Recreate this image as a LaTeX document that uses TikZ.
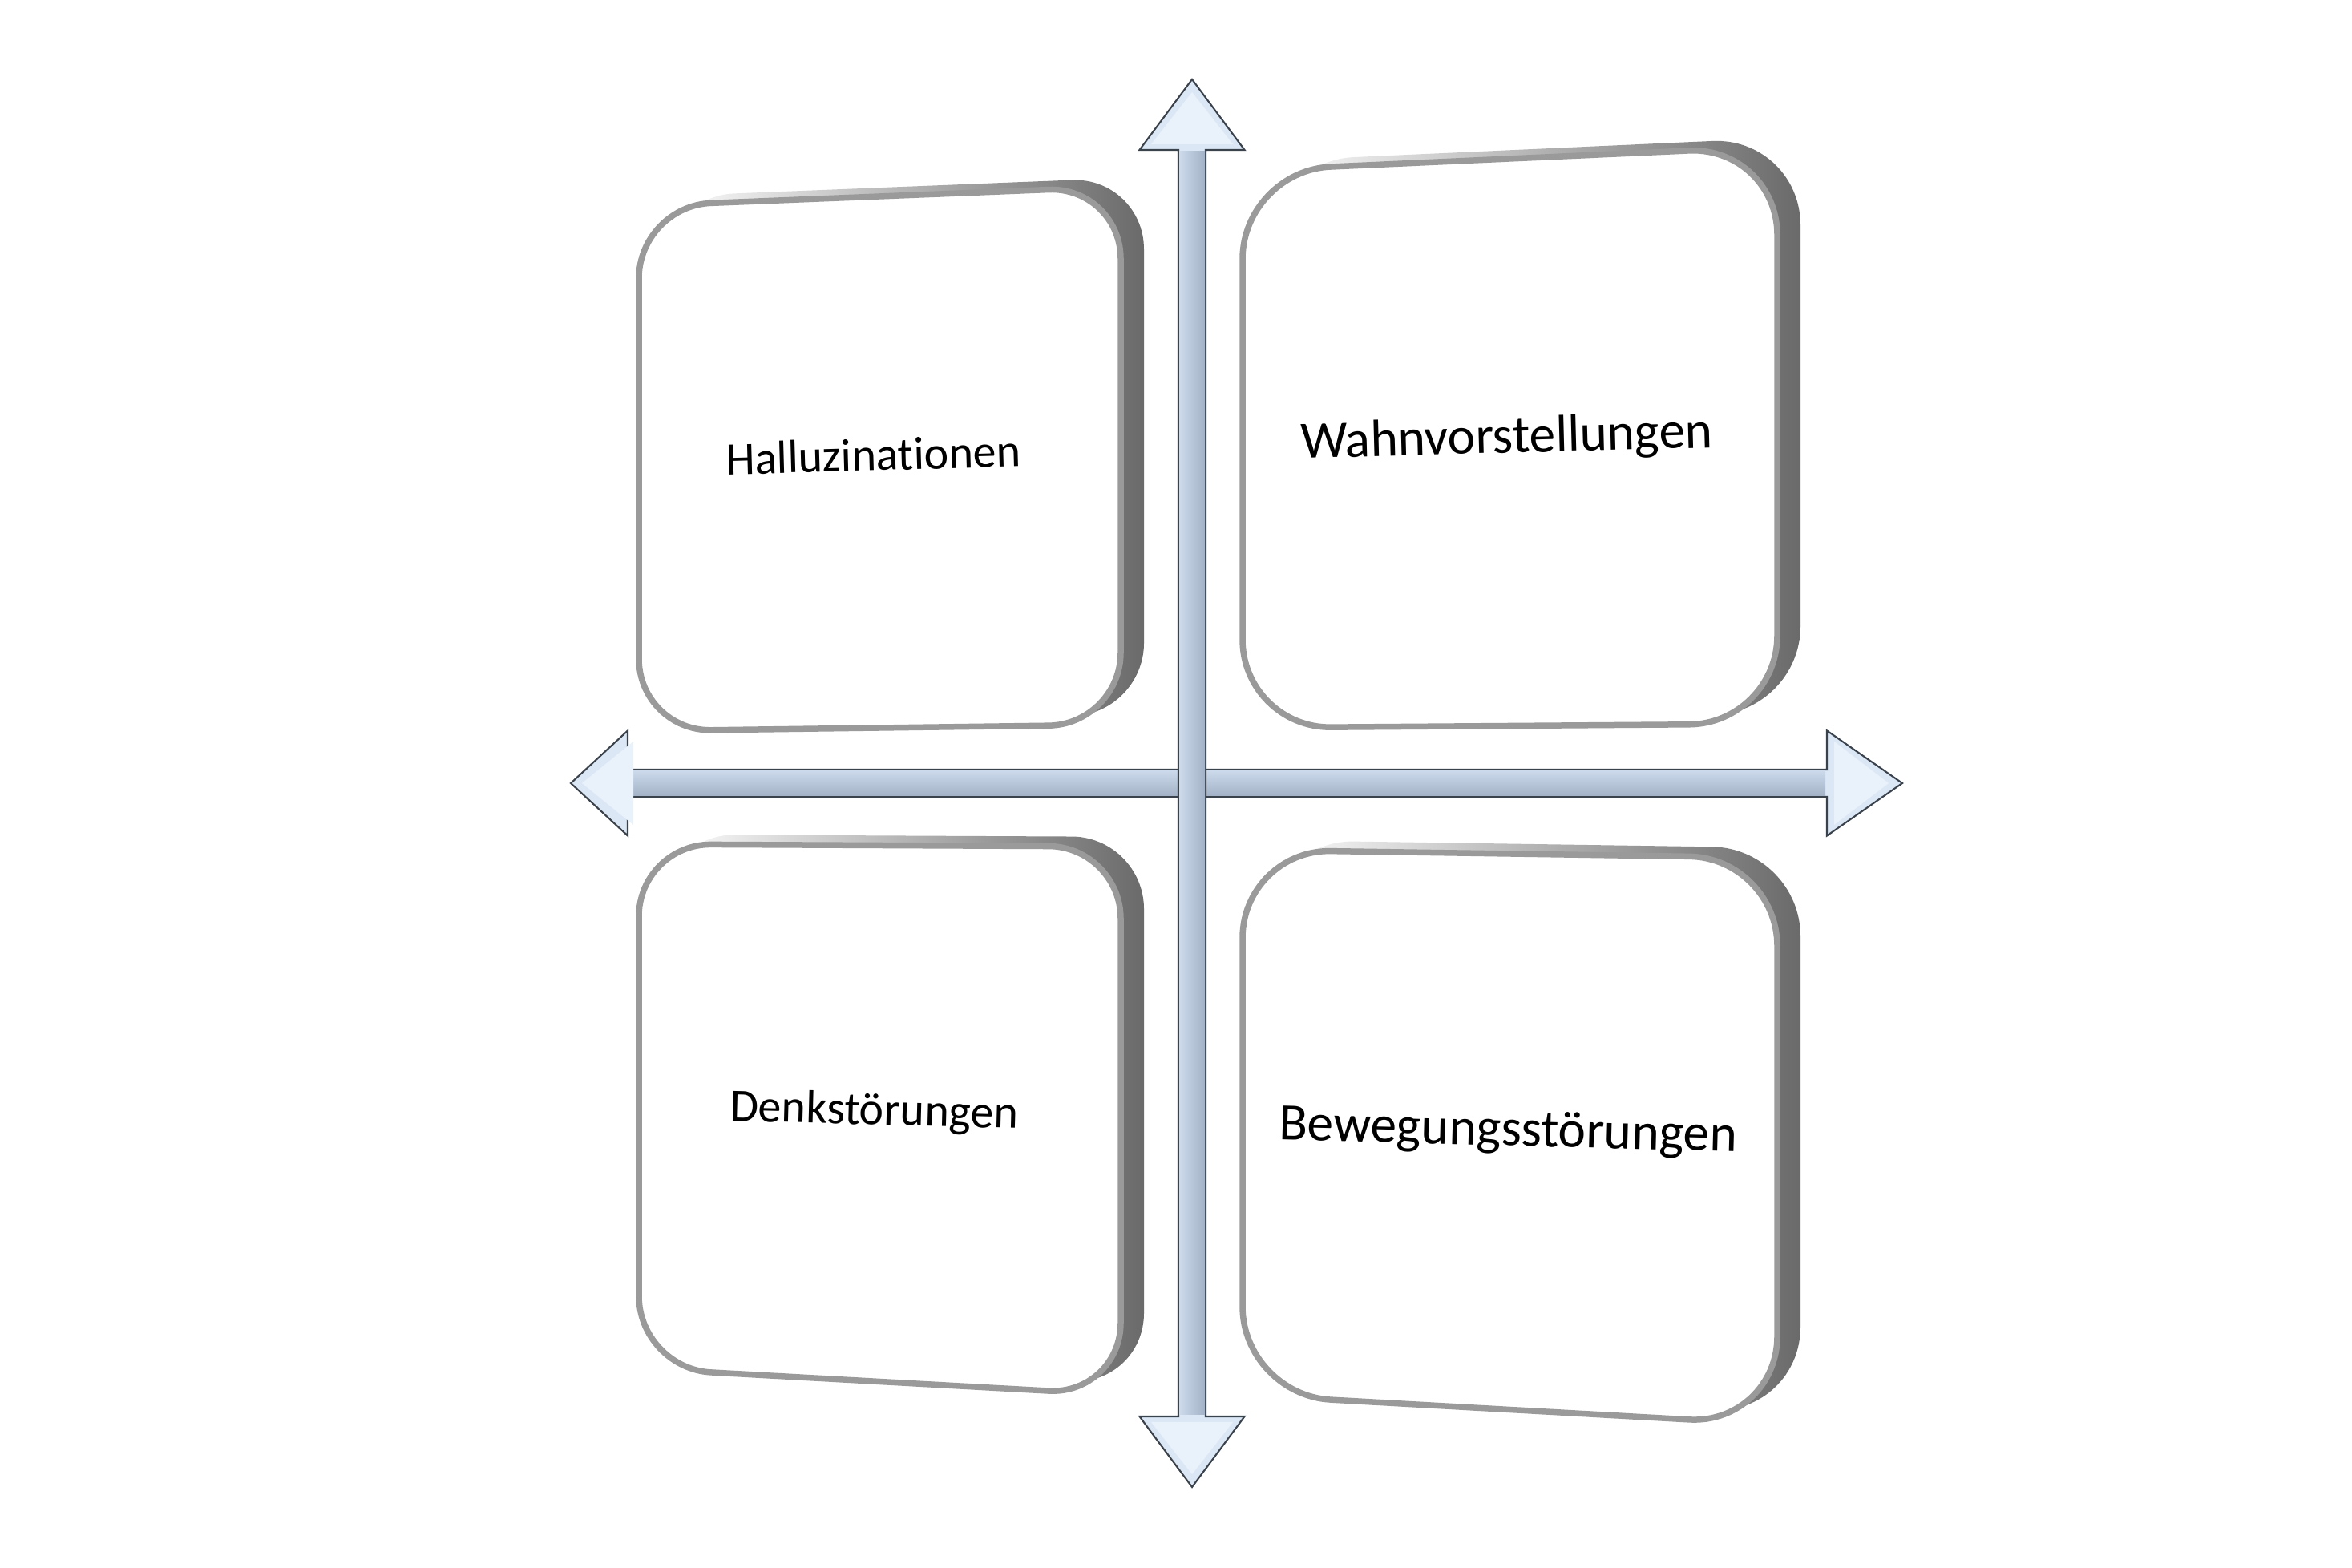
\documentclass[tikz,border=0pt]{standalone}
\usepackage{fontspec}
\setmainfont{Carlito}[Ligatures=NoCommon, RawFeature={-liga;-clig;-dlig}]

\definecolor{slabedge}{HTML}{9A9A9A}
\definecolor{slabdark}{HTML}{6A6A6A}
\definecolor{axisfill}{HTML}{DCE7F6}
\definecolor{axislight}{HTML}{CCDAEC}
\definecolor{axismid}{HTML}{F2F7FD}
\definecolor{axisdark}{HTML}{A3B2C6}
\definecolor{axisedge}{HTML}{3A424C}

\tikzset{
  slabback/.style={left color=white, right color=slabdark},
  slabfront/.style={fill=white, draw=slabedge, line width=0.075cm},
  axisarrow/.style={fill=axisfill, draw=axisedge, line width=0.6pt, line join=miter},
  axisinner/.style={fill=axismid!60!axisfill},
  smalltext/.style={font=\fontsize{16.5}{20}\selectfont, inner sep=0pt, anchor=base},
  bigtext/.style={font=\fontsize{18.6}{22}\selectfont, inner sep=0pt, anchor=base},
}

\begin{document}
\begin{tikzpicture}
    \useasboundingbox (0,0) rectangle (29.34,19.55);

    % the four slabs: left x / right x / top left y / top right y / bottom right y / bottom left y / corner radius
    \foreach \xl/\xr/\ytl/\ytr/\ybr/\ybl/\rad in {
        7.97/13.98/16.98/17.22/10.51/10.43/0.9,
        15.50/22.17/17.42/17.72/10.52/10.47/1.1,
        7.97/13.98/9.02/8.99/2.15/2.48/0.9,
        15.50/22.17/8.95/8.85/1.78/2.15/1.1} {
        % extruded side, seen to the right and on top
        \path[slabback, rounded corners=\rad cm, shift={(0.29,0.12)}]
            (\xl,\ytl) -- (\xr,\ytr) -- (\xr,\ybr) -- (\xl,\ybl) -- cycle;
        % front face
        \path[slabfront, rounded corners=\rad cm]
            (\xl,\ytl) -- (\xr,\ytr) -- (\xr,\ybr) -- (\xl,\ybl) -- cycle;
    }

    % horizontal axis
    \path[axisarrow] (7.12,9.78) -- (7.83,10.435) -- (7.83,9.95) -- (22.79,9.95) -- (22.79,10.435)
        -- (23.73,9.78) -- (22.79,9.125) -- (22.79,9.61) -- (7.83,9.61) -- (7.83,9.125) -- cycle;
    \fill[top color=axislight, middle color=axismid, bottom color=axisdark] (7.85,9.62) rectangle (22.77,9.94);
    \fill[axisinner] (7.26,9.78) -- (7.90,10.30) -- (7.90,9.26) -- cycle;
    \fill[axisinner] (23.56,9.78) -- (22.88,10.30) -- (22.88,9.26) -- cycle;

    % vertical axis
    \path[axisarrow] (14.87,18.56) -- (15.525,17.68) -- (15.04,17.68) -- (15.04,1.88) -- (15.525,1.88)
        -- (14.87,1.00) -- (14.215,1.88) -- (14.70,1.88) -- (14.70,17.68) -- (14.215,17.68) -- cycle;
    \fill[left color=axislight, middle color=axismid, right color=axisdark] (14.71,1.90) rectangle (15.03,17.66);
    \fill[axisinner] (14.87,18.40) -- (15.38,17.75) -- (14.36,17.75) -- cycle;
    \fill[axisinner] (14.87,1.16) -- (15.38,1.81) -- (14.36,1.81) -- cycle;

    % texts
    \node[smalltext, rotate=1.6] (hall) at (10.90,13.68) {Halluzinationen};
    \node[bigtext, rotate=1.5] (wahn) at (18.80,13.90) {Wahnvorstellungen};
    \node[smalltext, rotate=-1.5] (denk) at (10.90,5.52) {Denkstörungen};
    \node[bigtext, rotate=-1.5] (beweg) at (18.81,5.26) {Bewegungsstörungen};
\end{tikzpicture}
\end{document}
